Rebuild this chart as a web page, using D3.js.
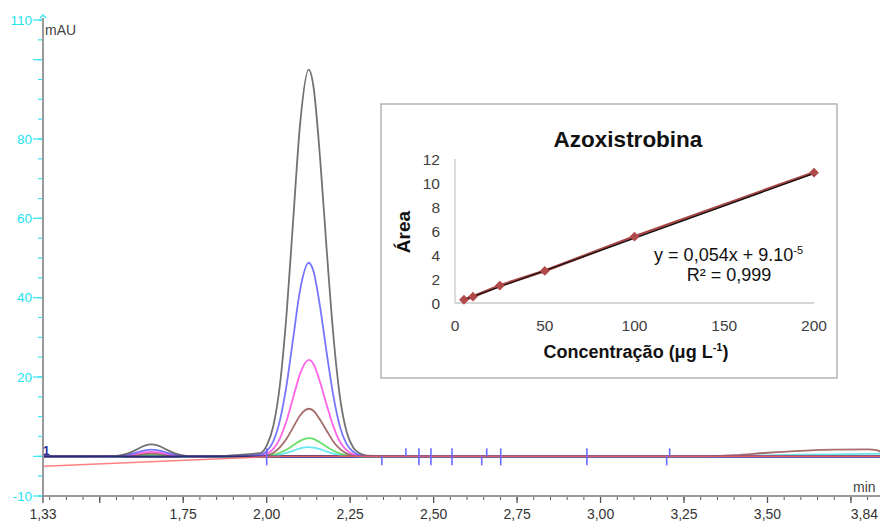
<!DOCTYPE html>
<html><head><meta charset="utf-8">
<script src="https://cdn.jsdelivr.net/npm/d3@7"></script>
<style>
html,body{margin:0;padding:0;background:#fff;}
svg{display:block;font-family:"Liberation Sans",Arial,sans-serif;}
</style></head>
<body><svg id="c" width="880" height="521"></svg>
<script>
// ---------- main chromatogram data ----------
const xDomain = [1.33, 3.84];
const yDomain = [-10, 110];
const xLabelTicks = [1.33, 1.75, 2.00, 2.25, 2.50, 2.75, 3.00, 3.25, 3.50, 3.84];
const xMajorTicks = [1.50, 1.75, 2.00, 2.25, 2.50, 2.75, 3.00, 3.25, 3.50, 3.75];
const yLabelTicks = [110, 80, 60, 40, 20, -10];
const yMajorTicks = [110, 100, 80, 60, 40, 20, 0, -10];

const smallPeakTimes = [1.50, 1.55, 1.58, 1.61, 1.635, 1.655, 1.675, 1.70, 1.73, 1.76, 1.80];
const mainPeakTimes = [1.98, 2.00, 2.02, 2.04, 2.06, 2.08, 2.10, 2.126, 2.14, 2.16, 2.18, 2.20, 2.22, 2.24, 2.26, 2.28, 2.30];
const tailTimes = [2.40, 3.30, 3.40, 3.50, 3.60, 3.70, 3.80, 3.83, 3.84];

const blackSmall = [0, 0.13, 0.6, 1.7, 2.7, 3.0, 2.7, 1.7, 0.6, 0.13, 0];
const blackMain = [0.8, 2.7, 7.7, 18.3, 36.4, 60.4, 83.7, 97.5, 93.3, 75.1, 51.7, 30.2, 14.6, 6.0, 2.1, 0.7, 0.2];
const blackTail = [0, 0, 0, 0, 0, 0, 0, 0, 0];

const blueSmall = [0, 0.07, 0.35, 0.96, 1.5, 1.7, 1.5, 0.96, 0.35, 0.07, 0];
const blueMain = [0.4, 1.3, 3.8, 9.2, 18.2, 30.2, 41.9, 48.8, 46.7, 37.6, 25.9, 15.1, 7.3, 3.0, 1.1, 0.3, 0.1];
const blueTail = [0, 0, 0, 0, 0, 0, 0, 0, 0];

const pinkSmall = [0, 0.05, 0.22, 0.62, 0.98, 1.1, 0.98, 0.62, 0.22, 0.05, 0];
const pinkMain = [0.2, 0.7, 1.9, 4.6, 9.1, 15.0, 20.8, 24.3, 23.3, 18.7, 12.9, 7.5, 3.6, 1.5, 0.5, 0.2, 0.0];
const pinkTail = [0, 0, 0, 0, 0, 0, 0, 0, 0];

const brownSmall = [0, 0.03, 0.14, 0.39, 0.63, 0.7, 0.63, 0.39, 0.14, 0.03, 0];
const brownMain = [0.1, 0.3, 0.9, 2.3, 4.5, 7.4, 10.3, 12.0, 11.5, 9.2, 6.4, 3.7, 1.8, 0.7, 0.3, 0.1, 0.0];
const brownTail = [0, 0, 0.3, 0.9, 1.4, 1.7, 1.75, 1.5, 1.0];

const greenSmall = [0, 0.02, 0.08, 0.23, 0.36, 0.4, 0.36, 0.23, 0.08, 0.02, 0];
const greenMain = [0.0, 0.1, 0.4, 0.9, 1.7, 2.8, 3.9, 4.6, 4.4, 3.5, 2.4, 1.4, 0.7, 0.3, 0.1, 0.0, 0.0];
const greenTail = [0, 0, 0, 0, 0, 0, 0, 0, 0];

const cyanSmall = [0, 0.01, 0.04, 0.12, 0.18, 0.2, 0.18, 0.12, 0.04, 0.01, 0];
const cyanMain = [0.0, 0.1, 0.2, 0.4, 0.9, 1.4, 2.0, 2.3, 2.2, 1.8, 1.2, 0.7, 0.3, 0.1, 0.1, 0.0, 0.0];
const cyanTail = [0, 0, 0.1, 0.25, 0.4, 0.5, 0.6, 0.6, 0.6];

const redTimes = [1.33, 2.00, 2.05, 3.84];
const redValues = [-2.5, -0.1, 0, 0];
const navyTimes = [1.33, 3.84];
const navyValues = [0, 0];

const markerTimes = [2.000, 2.345, 2.417, 2.456, 2.492, 2.555, 2.644, 2.659, 2.701, 2.959, 3.198, 3.207];
const markerKinds = ["both", "below", "above", "both", "both", "both", "below", "above", "both", "both", "below", "above"];

// ---------- inset calibration data ----------
const concentrations = [5, 10, 25, 50, 100, 200];
const areas = [0.27, 0.53, 1.45, 2.67, 5.53, 10.86];
const fitSlope = 0.054, fitIntercept = 0.00009;
const insetXTicks = [0, 50, 100, 150, 200];
const insetYTicks = [0, 2, 4, 6, 8, 10, 12];

// ---------- drawing ----------
const svg = d3.select("#c");
const x = d3.scaleLinear().domain(xDomain).range([43, 881]);
const y = d3.scaleLinear().domain(yDomain).range([496, 20]);

function buildTrace(small, main, tail) {
  const pts = [[1.33, 0]];
  smallPeakTimes.forEach((t, i) => pts.push([t, small[i]]));
  mainPeakTimes.forEach((t, i) => pts.push([t, main[i]]));
  tailTimes.forEach((t, i) => pts.push([t, tail[i]]));
  return pts;
}

const traces = [
  {pts: buildTrace(cyanSmall, cyanMain, cyanTail), color: "#5ee6f2"},
  {pts: buildTrace(greenSmall, greenMain, greenTail), color: "#62dc62"},
  {pts: buildTrace(brownSmall, brownMain, brownTail), color: "#a26464"},
  {pts: buildTrace(pinkSmall, pinkMain, pinkTail), color: "#ff5ce6"},
  {pts: buildTrace(blueSmall, blueMain, blueTail), color: "#6e6eff"},
  {pts: buildTrace(blackSmall, blackMain, blackTail), color: "#6a6a6a"}
];

svg.append("defs").append("clipPath").attr("id", "plotclip")
  .append("rect").attr("x", 44).attr("y", 10).attr("width", 840).attr("height", 486);

const line = d3.line().x(d => x(d[0])).y(d => y(d[1])).curve(d3.curveMonotoneX);
const gPlot = svg.append("g").attr("clip-path", "url(#plotclip)");

// y axis (left, cyan ticks)
const yMinor = d3.range(-10, 111, 5);
const gy = svg.append("g");
gy.selectAll("line.minor").data(yMinor).join("line")
  .attr("x1", 38).attr("x2", 43).attr("y1", d => y(d)).attr("y2", d => y(d))
  .attr("stroke", "#33e4f2").attr("stroke-width", 1.2);
gy.selectAll("line.major").data(yMajorTicks).join("line")
  .attr("x1", 33).attr("x2", 43).attr("y1", d => y(d)).attr("y2", d => y(d))
  .attr("stroke", "#33e4f2").attr("stroke-width", 1.2);
gy.selectAll("text").data(yLabelTicks).join("text")
  .attr("x", 32).attr("y", d => y(d) + 4.5).attr("text-anchor", "end")
  .attr("fill", "#22e2f2").attr("font-size", 13.5).text(d => d);

// x axis ticks
const xMinor = d3.range(1.35, 3.86, 0.05);
const gx = svg.append("g");
gx.selectAll("line.minor").data(xMinor).join("line")
  .attr("x1", d => x(d)).attr("x2", d => x(d)).attr("y1", 496).attr("y2", 500)
  .attr("stroke", "#555").attr("stroke-width", 1);
gx.selectAll("line.major").data(xMajorTicks.concat([1.33])).join("line")
  .attr("x1", d => x(d)).attr("x2", d => x(d)).attr("y1", 496).attr("y2", 503)
  .attr("stroke", "#555").attr("stroke-width", 1.3);
gx.selectAll("text").data(xLabelTicks).join("text")
  .attr("x", d => d === 3.84 ? 878 : x(d))
  .attr("y", 519)
  .attr("text-anchor", d => d === 3.84 ? "end" : "middle")
  .attr("fill", "#333").attr("font-size", 14)
  .text(d => d3.format(".2f")(d).replace(".", ","));

// traces
gPlot.append("path").datum(navyTimes.map((t, i) => [t, navyValues[i]]))
  .attr("d", line).attr("fill", "none").attr("stroke", "#2b2b78").attr("stroke-width", 2.6);
traces.forEach(tr => {
  gPlot.append("path").datum(tr.pts).attr("d", line)
    .attr("fill", "none").attr("stroke", tr.color).attr("stroke-width", 1.8).attr("stroke-opacity", 0.95);
});
gPlot.append("path").datum(navyTimes.map((t, i) => [t, navyValues[i]]))
  .attr("d", line).attr("fill", "none").attr("stroke", "#2b2b78").attr("stroke-width", 1.6);
gPlot.append("path").datum(redTimes.map((t, i) => [t, redValues[i]]))
  .attr("d", d3.line().x(d => x(d[0])).y(d => y(d[1])))
  .attr("fill", "none").attr("stroke", "#ff6a6a").attr("stroke-width", 1.5).attr("stroke-opacity", 0.85);

// integration markers
markerTimes.forEach((t, i) => {
  const k = markerKinds[i];
  const y0 = y(0);
  const top = k === "below" ? y0 : y0 - 8;
  const bot = k === "above" ? y0 : y0 + 9;
  svg.append("line").attr("x1", x(t)).attr("x2", x(t)).attr("y1", top).attr("y2", bot)
    .attr("stroke", "#6a6aff").attr("stroke-width", 1.6);
});

// axis lines
svg.append("line").attr("x1", 43).attr("x2", 43).attr("y1", 18).attr("y2", 496)
  .attr("stroke", "#9a9a9a").attr("stroke-width", 2);
svg.append("line").attr("x1", 43).attr("x2", 880).attr("y1", 496).attr("y2", 496)
  .attr("stroke", "#9a9a9a").attr("stroke-width", 2);
svg.append("path").attr("d", "M40,18 L43,15 L46,18").attr("fill", "none").attr("stroke", "#33e4f2").attr("stroke-width", 1.4);

svg.append("text").attr("x", 45).attr("y", 35).attr("font-size", 14).attr("fill", "#444").text("mAU");
svg.append("text").attr("x", 853).attr("y", 492).attr("font-size", 14).attr("fill", "#444").text("min");
svg.append("text").attr("x", 43).attr("y", 455).attr("font-size", 12).attr("font-weight", "bold")
  .attr("fill", "#2b2b9a").text("1");

// ---------- inset ----------
const ins = svg.append("g");
ins.append("rect").attr("x", 381).attr("y", 104).attr("width", 456).attr("height", 274)
  .attr("fill", "#fff").attr("stroke", "#a8a8a8").attr("stroke-width", 1.3);

const ix = d3.scaleLinear().domain([0, 200]).range([455, 814]);
const iy = d3.scaleLinear().domain([0, 12]).range([303, 159]);

ins.append("line").attr("x1", 455).attr("x2", 455).attr("y1", iy(12)).attr("y2", iy(0))
  .attr("stroke", "#c8c8c8").attr("stroke-width", 1.3);
ins.append("line").attr("x1", 455).attr("x2", ix(200)).attr("y1", iy(0)).attr("y2", iy(0))
  .attr("stroke", "#c8c8c8").attr("stroke-width", 1.3);

ins.selectAll("text.yt").data(insetYTicks).join("text")
  .attr("x", 440).attr("y", d => iy(d) + 5.5).attr("text-anchor", "end")
  .attr("font-size", 15.5).attr("fill", "#404040").text(d => d);
ins.selectAll("text.xt").data(insetXTicks).join("text")
  .attr("x", d => ix(d)).attr("y", 331).attr("text-anchor", "middle")
  .attr("font-size", 15.5).attr("fill", "#404040").text(d => d);

ins.append("text").attr("x", 628).attr("y", 147).attr("text-anchor", "middle")
  .attr("font-size", 22.5).attr("font-weight", "bold").attr("fill", "#111").text("Azoxistrobina");
ins.append("text").attr("transform", "translate(410,232) rotate(-90)").attr("text-anchor", "middle")
  .attr("font-size", 19).attr("font-weight", "bold").attr("fill", "#111").text("Área");
const xl = ins.append("text").attr("x", 636).attr("y", 358).attr("text-anchor", "middle")
  .attr("font-size", 18).attr("font-weight", "bold").attr("fill", "#111");
xl.append("tspan").text("Concentração (μg L");
xl.append("tspan").attr("dy", -7).attr("font-size", 11).text("-1");
xl.append("tspan").attr("dy", 7).text(")");

// data line and trend line
const pts = concentrations.map((c, i) => [c, areas[i]]);
ins.append("path").datum(pts)
  .attr("d", d3.line().x(d => ix(d[0])).y(d => iy(d[1])))
  .attr("fill", "none").attr("stroke", "#a84545").attr("stroke-width", 3);
ins.append("line")
  .attr("x1", ix(4)).attr("y1", iy(fitSlope * 4 + fitIntercept))
  .attr("x2", ix(200)).attr("y2", iy(fitSlope * 200 + fitIntercept))
  .attr("stroke", "#111").attr("stroke-width", 1.3);
ins.selectAll("path.pt").data(pts).join("path")
  .attr("d", d3.symbol(d3.symbolSquare, 48)())
  .attr("transform", d => `translate(${ix(d[0])},${iy(d[1])}) rotate(45)`)
  .attr("fill", "#b04a4a");

const eq = ins.append("text").attr("x", 803).attr("y", 261).attr("text-anchor", "end")
  .attr("font-size", 18).attr("fill", "#111");
eq.append("tspan").text("y = 0,054x + 9.10");
eq.append("tspan").attr("dy", -7).attr("font-size", 11).text("-5");
const r2 = ins.append("text").attr("x", 729).attr("y", 281).attr("text-anchor", "middle")
  .attr("font-size", 18).attr("fill", "#111").text("R² = 0,999");
</script></body></html>
